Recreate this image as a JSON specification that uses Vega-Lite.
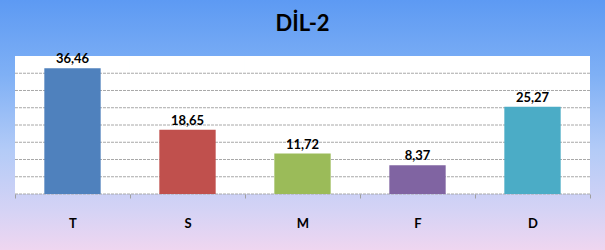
{
  "$schema": "https://vega.github.io/schema/vega-lite/v6.json",
  "width": 605,
  "height": 250,
  "autosize": {"type": "none"},
  "padding": 0,
  "background": "#ffffff",
  "title": {"text": "DİL-2", "font": "Lato", "fontSize": 22, "fontWeight": "bold", "color": "#000000", "anchor": "middle", "offset": -36},
  "config": {
    "view": {"stroke": "#8a8a8a", "strokeDash": [2, 1]},
    "locale": {"number": {"decimal": ",", "thousands": ".", "grouping": [3], "currency": ["", " TL"]}}
  },
  "data": {"values": [
    {"cat": "T", "v": 36.46},
    {"cat": "S", "v": 18.65},
    {"cat": "M", "v": 11.72},
    {"cat": "F", "v": 8.37},
    {"cat": "D", "v": 25.27}
  ]},
  "layer": [
    {
      "data": {"values": [{}]},
      "mark": {"type": "rect", "color": {"gradient": "linear", "x1": 0, "y1": 0, "x2": 0, "y2": 1,
        "stops": [
          {"offset": 0, "color": "#5d9af3"},
          {"offset": 0.3, "color": "#7fb0f5"},
          {"offset": 0.6, "color": "#b3cbf7"},
          {"offset": 0.85, "color": "#d6d3f5"},
          {"offset": 1, "color": "#efd6f0"}
        ]}},
      "encoding": {}
    },
    {
      "mark": {"type": "bar", "color": "#ffffff"},
      "encoding": {
        "x": {"field": "cat", "type": "nominal", "sort": null,
          "scale": {"domain": ["T", "S", "M", "F", "D"], "paddingInner": 0, "paddingOuter": 0.1304},
          "axis": {"orient": "bottom", "offset": -56, "title": null, "domain": false, "grid": false, "zindex": 1,
            "tickBand": "extent", "tickSize": 4, "tickColor": "#a0a0a0", "labelAngle": 0,
            "labelFont": "Lato", "labelFontSize": 13, "labelFontWeight": "bold", "labelColor": "#000000", "labelPadding": 19}},
        "y": {"datum": 40, "type": "quantitative", "scale": {"domain": [-16.23, 56.23], "nice": false, "zero": false}, "axis": null},
        "y2": {"datum": 0}
      }
    },
    {
      "data": {"values": [{"g": 0}, {"g": 5}, {"g": 10}, {"g": 15}, {"g": 20}, {"g": 25}, {"g": 30}, {"g": 35}]},
      "mark": {"type": "rule", "color": "#a8a8a8", "strokeDash": [3, 1], "strokeWidth": 1},
      "encoding": {
        "y": {"field": "g", "type": "quantitative"},
        "x": {"datum": "T", "type": "nominal", "bandPosition": 0},
        "x2": {"datum": "D", "bandPosition": 1}
      }
    },
    {
      "mark": {"type": "bar", "width": {"band": 0.49}},
      "encoding": {
        "x": {"field": "cat", "type": "nominal", "sort": null},
        "y": {"field": "v", "type": "quantitative"},
        "color": {"field": "cat", "type": "nominal", "sort": null, "legend": null,
          "scale": {"domain": ["T", "S", "M", "F", "D"], "range": ["#4f81bd", "#c0504d", "#9bbb59", "#8064a2", "#4bacc6"]}}
      }
    },
    {
      "mark": {"type": "text", "baseline": "alphabetic", "dy": -5, "font": "Lato", "fontSize": 13, "fontWeight": "bold", "color": "#000000"},
      "encoding": {
        "x": {"field": "cat", "type": "nominal", "sort": null},
        "y": {"field": "v", "type": "quantitative"},
        "text": {"field": "v", "type": "quantitative", "format": ".2f"}
      }
    }
  ]
}
